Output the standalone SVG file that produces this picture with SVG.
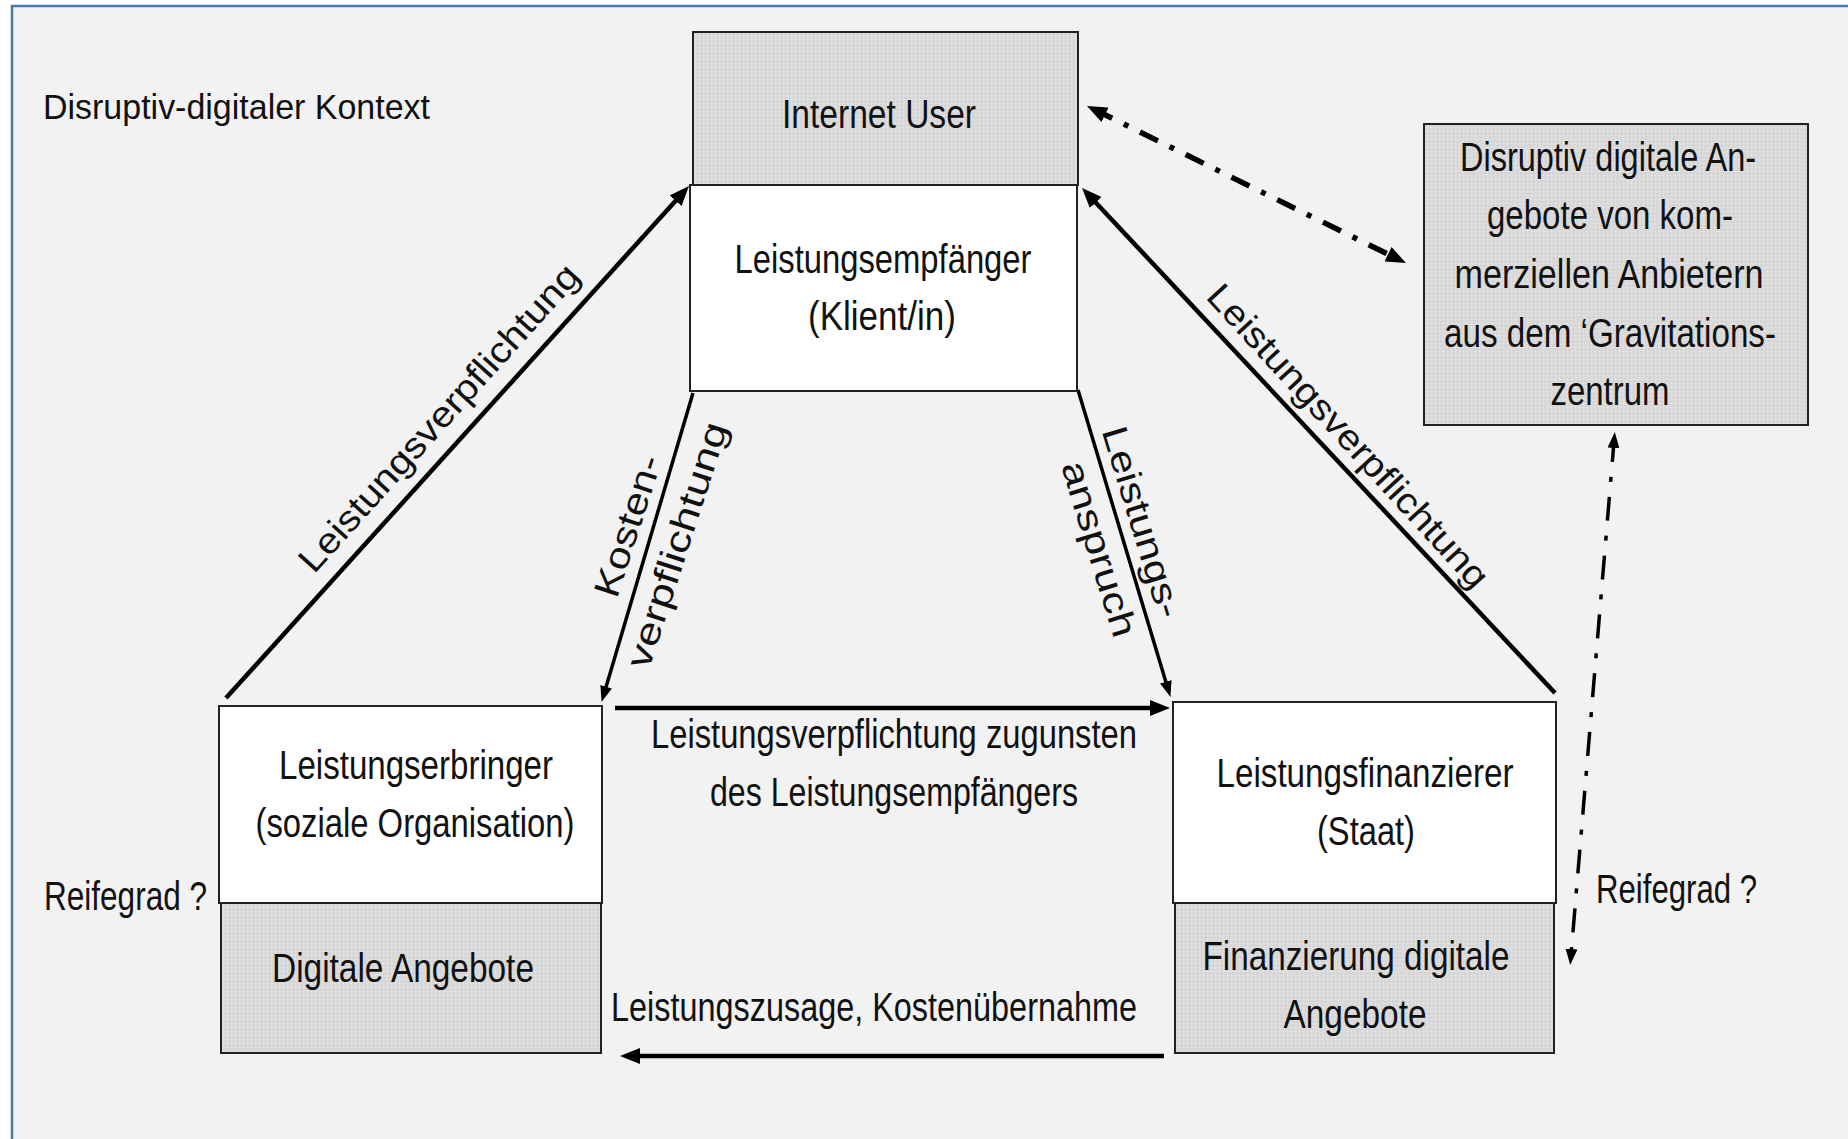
<svg xmlns="http://www.w3.org/2000/svg" width="1848" height="1139" viewBox="0 0 1848 1139">
<style>
  text { font-family: "Liberation Sans Narrow", "Liberation Sans", Arial, sans-serif; fill: #111; }
  .lbl { font-size: 40px; text-anchor: middle; }
  .edge { font-size: 36px; text-anchor: middle; }
  .box { stroke: #222; stroke-width: 2; }
  .white { fill: #ffffff; }
  .gray { fill: url(#dots); }
  .solid { fill: none; stroke: #000; stroke-width: 4.5; }
  .thin { fill: none; stroke: #000; stroke-width: 3.5; }
  .dashdot { fill: none; stroke: #000; stroke-width: 5.5; stroke-dasharray: 20 13 5 13; }
  .dashdot2 { fill: none; stroke: #000; stroke-width: 3.5; stroke-dasharray: 24 15 5 15; }
</style>
<defs>
  <pattern id="dots" width="4" height="4" patternUnits="userSpaceOnUse">
    <rect width="4" height="4" fill="#dadada"/>
    <rect x="1" y="1" width="1" height="1" fill="#c9c9c9"/>
    <rect x="3" y="3" width="1" height="1" fill="#e6e6e6"/>
  </pattern>
  <marker id="ah" markerUnits="userSpaceOnUse" markerWidth="22" markerHeight="16" refX="12" refY="8" orient="auto-start-reverse">
    <path d="M0,0 L20,8 L0,16 z" fill="#000"/>
  </marker>
  <marker id="ahs" markerUnits="userSpaceOnUse" markerWidth="18" markerHeight="12" refX="10" refY="6" orient="auto-start-reverse">
    <path d="M0,0 L16,6 L0,12 z" fill="#000"/>
  </marker>
</defs>

<rect x="0" y="0" width="1848" height="1139" fill="#ffffff"/>
<rect id="frame" x="12" y="6" width="1850" height="1150" fill="#f2f2f2" stroke="#4a78b0" stroke-width="2.5"/>

<text x="43" y="119" font-size="35" textLength="387" lengthAdjust="spacingAndGlyphs">Disruptiv-digitaler Kontext</text>

<g id="connectors">
  <path class="solid" d="M226,698 L683.6,191.9" marker-end="url(#ah)"/>
  <path class="solid" d="M1555,693 L1087.5,193.8" marker-end="url(#ah)"/>
  <path class="thin" d="M693,393 L603.3,696.3" marker-end="url(#ahs)"/>
  <path class="thin" d="M1078,390 L1168.7,691.3" marker-end="url(#ahs)"/>
  <path class="solid" d="M615,708 L1162,708" stroke-width="5" marker-end="url(#ah)"/>
  <path class="solid" d="M1164,1056 L628,1056" stroke-width="5" marker-end="url(#ah)"/>
  <path class="dashdot" d="M1094.2,109.5 L1398.8,259.5" marker-start="url(#ah)" marker-end="url(#ah)"/>
  <path class="dashdot2" d="M1614.3,438 L1570.7,959" marker-start="url(#ahs)" marker-end="url(#ahs)"/>

  <text class="edge" transform="translate(439,418) rotate(-48)" x="0" y="12" textLength="400" lengthAdjust="spacingAndGlyphs">Leistungsverpflichtung</text>
  <text class="edge" transform="translate(1348,436) rotate(47.5)" x="0" y="12" textLength="398" lengthAdjust="spacingAndGlyphs">Leistungsverpflichtung</text>
  <text class="edge" transform="translate(628,526) rotate(-72)" x="0" y="12" textLength="147" lengthAdjust="spacingAndGlyphs">Kosten-</text>
  <text class="edge" transform="translate(677,545) rotate(-72)" x="0" y="12" textLength="256" lengthAdjust="spacingAndGlyphs">verpflichtung</text>
  <text class="edge" transform="translate(1142,522) rotate(73)" x="0" y="12" textLength="198" lengthAdjust="spacingAndGlyphs">Leistungs-</text>
  <text class="edge" transform="translate(1099,549) rotate(73)" x="0" y="12" textLength="182" lengthAdjust="spacingAndGlyphs">anspruch</text>

  <text class="lbl" x="894" y="748" textLength="486" lengthAdjust="spacingAndGlyphs">Leistungsverpflichtung zugunsten</text>
  <text class="lbl" x="894" y="806" textLength="368" lengthAdjust="spacingAndGlyphs">des Leistungsempfängers</text>
  <text x="611" y="1021" font-size="40" textLength="526" lengthAdjust="spacingAndGlyphs">Leistungszusage, Kostenübernahme</text>
</g>

<g id="internet-user">
  <rect class="box gray" x="693" y="32" width="385" height="153"/>
  <text class="lbl" x="879" y="128" textLength="194" lengthAdjust="spacingAndGlyphs">Internet User</text>
</g>

<g id="leistungsempfaenger">
  <rect class="box white" x="690" y="185" width="387" height="206"/>
  <text class="lbl" x="883" y="273" textLength="297" lengthAdjust="spacingAndGlyphs">Leistungsempfänger</text>
  <text class="lbl" x="882" y="330" textLength="148" lengthAdjust="spacingAndGlyphs">(Klient/in)</text>
</g>

<g id="disruptiv-angebote">
  <rect class="box gray" x="1424" y="124" width="384" height="301"/>
  <text class="lbl" x="1608" y="171" textLength="296" lengthAdjust="spacingAndGlyphs">Disruptiv digitale An-</text>
  <text class="lbl" x="1610" y="229" textLength="246" lengthAdjust="spacingAndGlyphs">gebote von kom-</text>
  <text class="lbl" x="1609" y="288" textLength="309" lengthAdjust="spacingAndGlyphs">merziellen Anbietern</text>
  <text class="lbl" x="1610" y="347" textLength="332" lengthAdjust="spacingAndGlyphs">aus dem ‘Gravitations-</text>
  <text class="lbl" x="1610" y="405" textLength="119" lengthAdjust="spacingAndGlyphs">zentrum</text>
</g>

<g id="leistungserbringer">
  <rect class="box white" x="219" y="706" width="383" height="197"/>
  <text class="lbl" x="416" y="779" textLength="274" lengthAdjust="spacingAndGlyphs">Leistungserbringer</text>
  <text class="lbl" x="415" y="837" textLength="319" lengthAdjust="spacingAndGlyphs">(soziale Organisation)</text>
</g>

<g id="digitale-angebote">
  <rect class="box gray" x="221" y="903" width="380" height="150"/>
  <text class="lbl" x="403" y="982" textLength="262" lengthAdjust="spacingAndGlyphs">Digitale Angebote</text>
</g>

<g id="leistungsfinanzierer">
  <rect class="box white" x="1173" y="702" width="383" height="201"/>
  <text class="lbl" x="1365" y="787" textLength="297" lengthAdjust="spacingAndGlyphs">Leistungsfinanzierer</text>
  <text class="lbl" x="1366" y="845" textLength="98" lengthAdjust="spacingAndGlyphs">(Staat)</text>
</g>

<g id="finanzierung-digitale">
  <rect class="box gray" x="1175" y="903" width="379" height="150"/>
  <text class="lbl" x="1356" y="970" textLength="307" lengthAdjust="spacingAndGlyphs">Finanzierung digitale</text>
  <text class="lbl" x="1355" y="1028" textLength="143" lengthAdjust="spacingAndGlyphs">Angebote</text>
</g>

<g id="reifegrad-links">
  <text x="44" y="910" font-size="40" textLength="163" lengthAdjust="spacingAndGlyphs">Reifegrad ?</text>
</g>
<g id="reifegrad-rechts">
  <text x="1596" y="903" font-size="40" textLength="161" lengthAdjust="spacingAndGlyphs">Reifegrad ?</text>
</g>
</svg>
